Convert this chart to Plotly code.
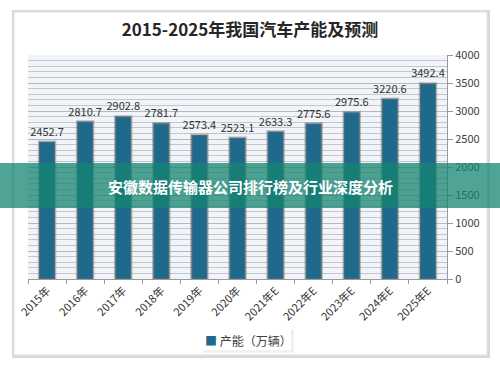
import plotly.graph_objects as go

categories = ["2015年", "2016年", "2017年", "2018年", "2019年", "2020年",
              "2021年E", "2022年E", "2023年E", "2024年E", "2025年E"]
capacity = [2452.7, 2810.7, 2902.8, 2781.7, 2573.4, 2523.1,
            2633.3, 2775.6, 2975.6, 3220.6, 3492.4]
y_ticks = [0, 500, 1000, 1500, 2000, 2500, 3000, 3500, 4000]
title_text = "2015-2025年我国汽车产能及预测"
series_name = "产能（万辆）"
banner_text = "安徽数据传输器公司排行榜及行业深度分析"

W, H = 500, 370
L, R, T, B = 28, 53, 55, 91
pw, ph = W - L - R, H - T - B

def px(x):
    return (x - L) / pw

def py(y):
    return (H - B - y) / ph

FONT = "Noto Sans CJK SC"
BAR = "#1f6a8c"

fig = go.Figure()
fig.add_trace(go.Bar(
    x=categories, y=capacity, name=series_name,
    marker=dict(color=BAR, line=dict(color="rgba(110,110,110,0.45)", width=2.5)),
    width=0.42,
    text=[f"{v:.1f}" for v in capacity], textposition="outside",
    textfont=dict(size=11, color="#333333", family=FONT),
    constraintext="none",
    cliponaxis=False,
    showlegend=False,
))

shapes = [
    dict(type="rect", xref="paper", yref="paper", layer="below",
         x0=px(12), x1=px(490), y0=py(358), y1=py(10),
         fillcolor="#d9d9d9", line=dict(width=0)),
    dict(type="rect", xref="paper", yref="paper", layer="below",
         x0=px(14), x1=px(487), y0=py(355), y1=py(12),
         fillcolor="#ffffff", line=dict(color="#e2e2e2", width=1)),
    dict(type="rect", xref="paper", yref="paper", layer="below",
         x0=0, x1=1, y0=0, y1=1,
         fillcolor="#f1f4f8", line=dict(width=0)),
    dict(type="rect", xref="paper", yref="paper", layer="below",
         x0=px(204), x1=px(293), y0=py(352), y1=py(330),
         fillcolor="#f2f2f2", line=dict(color="#ececec", width=1)),
    dict(type="rect", xref="paper", yref="paper", layer="below",
         x0=px(203), x1=px(291), y0=py(350), y1=py(329),
         fillcolor="#ffffff", line=dict(width=0)),
    dict(type="rect", xref="paper", yref="paper", layer="above",
         x0=px(0), x1=px(500), y0=py(208), y1=py(163),
         fillcolor="rgba(19,132,112,0.74)", line=dict(width=0)),
]

fig.update_layout(
    width=W, height=H,
    margin=dict(l=L, r=R, t=T, b=B, autoexpand=False),
    paper_bgcolor="#ffffff",
    plot_bgcolor="rgba(0,0,0,0)",
    font=dict(family=FONT, color="#404040", size=11),
    title=dict(text=f"<b>{title_text}</b>", x=0.5, xanchor="center",
               y=1 - 30 / H, yanchor="middle",
               font=dict(size=17, color="#262626", family=FONT)),
    shapes=shapes,
    annotations=[
        dict(text=f"<b>{banner_text}</b>", xref="paper", yref="paper",
             x=px(250), y=py(186), showarrow=False,
             font=dict(size=15, color="#ffffff", family=FONT)),
        dict(text=f"<span style='color:{BAR}'>■</span> {series_name}",
             xref="paper", yref="paper", x=px(248), y=py(340), showarrow=False,
             xanchor="center", yanchor="middle",
             font=dict(size=12, color="#404040", family=FONT)),
    ],
    showlegend=False,
)
fig.update_xaxes(
    type="category", tickangle=-45, tickfont=dict(size=11, color="#333333"),
    showline=True, linecolor="#9a9a9a", linewidth=1,
    ticks="outside", tickson="boundaries", ticklen=4, tickcolor="#9a9a9a",
    showgrid=False, automargin=False,
)
fig.update_yaxes(
    side="right", range=[0, 4000], tickvals=y_ticks,
    tickfont=dict(size=11, color="#404040"),
    showline=True, linecolor="#9a9a9a", linewidth=1,
    ticks="outside", ticklen=5, tickcolor="#9a9a9a",
    showgrid=True, gridcolor="#b5b9bf", gridwidth=1,
    minor=dict(dtick=100, showgrid=True, gridcolor="#c3c7cc", gridwidth=1),
    zeroline=False, automargin=False,
)

fig.write_html("out.html", config={"displayModeBar": False},
               post_script="document.body.style.margin='0';document.body.style.overflow='hidden';")
